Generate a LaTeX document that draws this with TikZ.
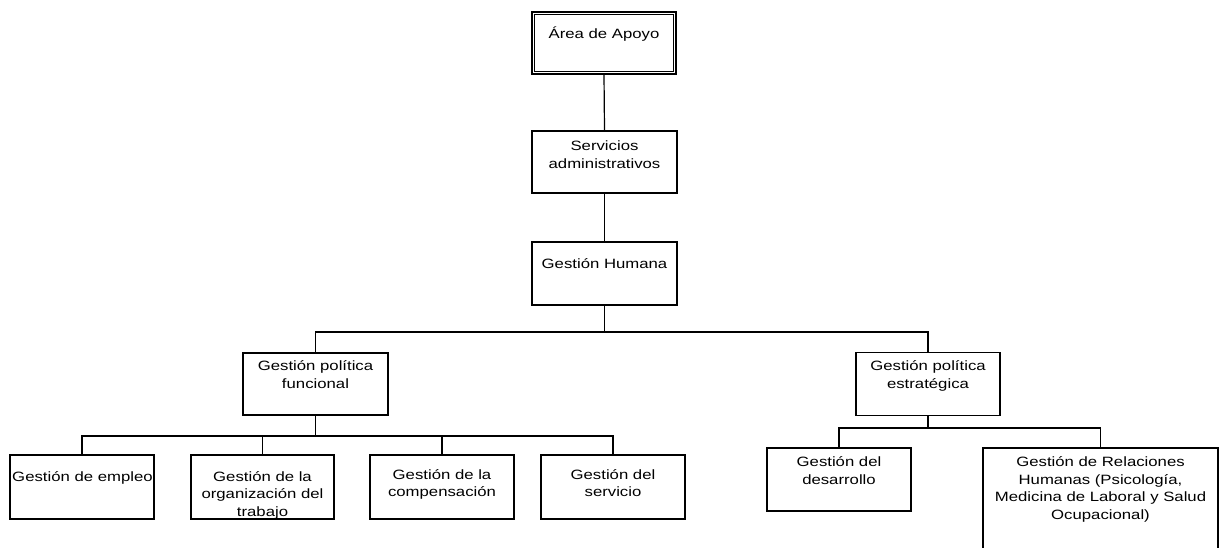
\documentclass[tikz,border=0pt]{standalone}
\usepackage{fontspec}
\setmainfont[FakeStretch=1.24]{Liberation Sans}
\tikzset{
  box/.style={draw=black, line width=1.2pt, inner sep=0pt, fill=white},
  txt/.style={inner sep=0pt, anchor=north, align=center, font=\fontsize{13.5}{17.5}\selectfont},
  conn/.style={draw=black, line width=1.2pt}
}
\begin{document}
\begin{tikzpicture}[x=1pt, y=-1pt]
\useasboundingbox (0,0) rectangle (1220,548);
\clip (0,0) rectangle (1220,548);
% boxes
\node[box, minimum width=144pt, minimum height=62pt] (area) at (604,43) {};
\draw[line width=1.2pt] ([shift={(3,3)}]area.north west) rectangle ([shift={(-3,-3)}]area.south east);
\node[box, minimum width=145pt, minimum height=62pt] (serv) at (604.5,162) {};
\node[box, minimum width=145pt, minimum height=63pt] (gh) at (604.5,273.5) {};
\node[box, minimum width=145pt, minimum height=62pt] (func) at (315.5,384) {};
\node[box, minimum width=144pt, minimum height=63pt] (estr) at (928,384) {};
\node[box, minimum width=144pt, minimum height=64pt] (empl) at (82,487) {};
\node[box, minimum width=143pt, minimum height=64pt] (org) at (262.5,487) {};
\node[box, minimum width=144pt, minimum height=64pt] (comp) at (442,487) {};
\node[box, minimum width=144pt, minimum height=64pt] (serv2) at (613,487) {};
\node[box, minimum width=144pt, minimum height=63pt] (desa) at (839,479.5) {};
\node[box, minimum width=235pt, minimum height=122pt] (rel) at (1100.5,509) {};
% bus coordinates
\coordinate (bus1) at (604.5,332);
\coordinate (bus2) at (315.5,436);
\coordinate (bus3) at (928,428);
% connectors
\draw[conn] (area.south) -- (serv.north);
\draw[conn] (serv.south) -- (gh.north);
\draw[conn] (gh.south) -- (bus1);
\draw[conn] (func.north) |- (bus1) -| (estr.north);
\draw[conn] (func.south) -- (bus2);
\draw[conn] (empl.north) |- (bus2) -| (serv2.north);
\draw[conn] (org.north) -- (org.north |- bus2);
\draw[conn] (comp.north) -- (comp.north |- bus2);
\draw[conn] (estr.south) -- (bus3);
\draw[conn] (desa.north) |- (bus3) -| (rel.north);
% texts
\node[txt] (t1) at (604,26.5) {\strut Área de Apoyo};
\node[txt] (t2) at (604.5,138.5) {\strut Servicios\\administrativos};
\node[txt] (t3) at (604.5,256.5) {\strut Gestión Humana};
\node[txt] (t4) at (315.5,358.5) {\strut Gestión política\\funcional};
\node[txt] (t5) at (928,358.5) {\strut Gestión política\\estratégica};
\node[txt] (t6) at (82.5,469) {\strut Gestión de empleo};
\node[txt] (t7) at (262.5,469) {\strut Gestión de la\\organización del\\trabajo};
\node[txt] (t8) at (442,467) {\strut Gestión de la\\compensación};
\node[txt] (t9) at (613,467) {\strut Gestión del\\servicio};
\node[txt] (t10) at (839,454.5) {\strut Gestión del\\desarrollo};
\node[txt] (t11) at (1100.5,454.5) {\strut Gestión de Relaciones\\Humanas (Psicología,\\Medicina de Laboral y Salud\\Ocupacional)};
\end{tikzpicture}
\end{document}
